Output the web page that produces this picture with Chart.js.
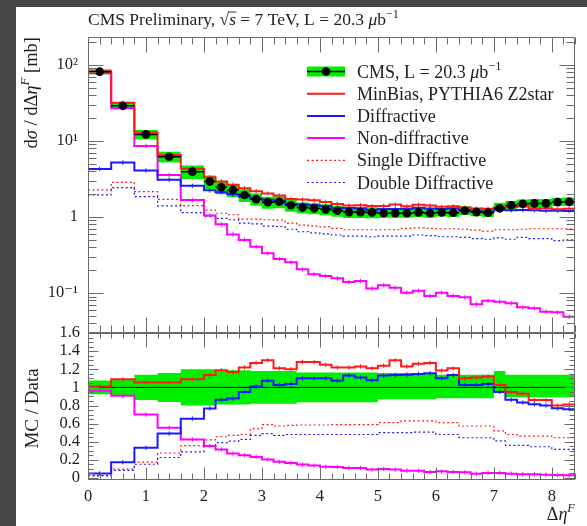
<!DOCTYPE html>
<html>
<head>
<meta charset="utf-8">
<script src="https://cdn.jsdelivr.net/npm/chart.js@4.4.1/dist/chart.umd.min.js"></script>
<style>
  html, body { margin: 0; padding: 0; background: #464646; }
  #wrap { position: relative; width: 587px; height: 526px; overflow: hidden; background: #464646; }
  #paper { position: absolute; left: 16px; top: 7px; right: 0; bottom: 0; background: #ffffff; }
  canvas { position: absolute; left: 0; top: 0; }
</style>
</head>
<body>
<div id="wrap">
  <div id="paper"></div>
  <canvas id="spectrum" width="587" height="526"></canvas>
  <canvas id="ratio" width="587" height="526"></canvas>
</div>
<script>
// ---- Binning in forward rapidity gap size ΔηF ----
const binEdges = [0, 0.4, 0.8, 1.2, 1.6, 2.0, 2.2, 2.4, 2.6, 2.8, 3.0, 3.2, 3.4, 3.6, 3.8,
  4.0, 4.2, 4.4, 4.6, 4.8, 5.0, 5.2, 5.4, 5.6, 5.8, 6.0, 6.2, 6.4, 6.6, 6.8, 7.0,
  7.2, 7.4, 7.6, 7.8, 8.0, 8.2, 8.4];

// ---- Measured cross section dσ/dΔηF [mb] and relative systematic band ----
const cmsData = [81.6, 29.1, 12.2, 6.2, 3.95, 2.92, 2.46, 2.27, 1.95, 1.72, 1.56, 1.59, 1.43,
  1.33, 1.30, 1.26, 1.21, 1.16, 1.16, 1.15, 1.12, 1.12, 1.12, 1.15, 1.12, 1.15, 1.14, 1.21,
  1.16, 1.14, 1.30, 1.42, 1.49, 1.51, 1.51, 1.57, 1.58];
const cmsErrUp = [0.075, 0.085, 0.14, 0.16, 0.20, 0.20, 0.19, 0.19, 0.19, 0.18, 0.18, 0.18, 0.18,
  0.165, 0.165, 0.165, 0.165, 0.165, 0.165, 0.165, 0.16, 0.16, 0.16, 0.16, 0.16, 0.14, 0.14,
  0.14, 0.14, 0.14, 0.18, 0.14, 0.14, 0.14, 0.14, 0.14, 0.14];
const cmsErrDown = [0.075, 0.085, 0.14, 0.16, 0.20, 0.20, 0.19, 0.19, 0.19, 0.18, 0.18, 0.18, 0.18,
  0.165, 0.165, 0.165, 0.165, 0.165, 0.165, 0.165, 0.13, 0.13, 0.13, 0.13, 0.13, 0.12, 0.12,
  0.12, 0.12, 0.12, 0.06, 0.11, 0.11, 0.11, 0.11, 0.11, 0.11];

// ---- PYTHIA6 Z2* predictions [mb] ----
const minBias = [82.4, 31.7, 12.9, 6.54, 4.31, 3.32, 2.93, 2.66, 2.38, 2.18, 2.03, 1.92, 1.72,
  1.70, 1.66, 1.58, 1.48, 1.42, 1.43, 1.39, 1.39, 1.46, 1.38, 1.45, 1.42, 1.36, 1.38, 1.33,
  1.29, 1.28, 1.33, 1.35, 1.39, 1.30, 1.30, 1.26, 1.28];
const diffractive = [4.28, 5.2, 4.1, 3.1, 2.58, 2.24, 2.12, 1.99, 1.85, 1.74, 1.68, 1.63, 1.48,
  1.46, 1.43, 1.39, 1.30, 1.31, 1.29, 1.24, 1.27, 1.27, 1.28, 1.32, 1.29, 1.27, 1.30, 1.24,
  1.19, 1.18, 1.24, 1.23, 1.24, 1.23, 1.21, 1.21, 1.20];
const nonDiffractive = [78, 27, 8.6, 3.57, 1.67, 1.05, 0.80, 0.59, 0.50, 0.407, 0.333, 0.280,
  0.253, 0.205, 0.176, 0.167, 0.156, 0.140, 0.144, 0.115, 0.127, 0.117, 0.101, 0.107, 0.0913,
  0.101, 0.0913, 0.0878, 0.071, 0.0792, 0.0768, 0.0732, 0.0648, 0.0629, 0.0568, 0.0557, 0.0488];
const singleDiffractive = [2.27, 2.86, 2.15, 1.71, 1.41, 1.23, 1.12, 1.07, 0.94, 0.94, 0.92, 0.91,
  0.83, 0.78, 0.76, 0.74, 0.71, 0.68, 0.68, 0.68, 0.68, 0.68, 0.71, 0.72, 0.71, 0.70, 0.70,
  0.69, 0.67, 0.65, 0.68, 0.68, 0.69, 0.70, 0.70, 0.70, 0.70];
const doubleDiffractive = [1.95, 2.43, 1.85, 1.40, 1.14, 1.02, 0.96, 0.92, 0.83, 0.81, 0.76, 0.75,
  0.69, 0.64, 0.62, 0.60, 0.58, 0.56, 0.56, 0.55, 0.56, 0.56, 0.56, 0.58, 0.57, 0.55, 0.55,
  0.54, 0.52, 0.51, 0.53, 0.51, 0.54, 0.52, 0.52, 0.49, 0.50];

// ---- MC / Data ratios ----
const ratioMinBias = [1.01, 1.09, 1.055, 1.055, 1.09, 1.137, 1.19, 1.17, 1.22, 1.27, 1.30, 1.21,
  1.20, 1.28, 1.28, 1.25, 1.22, 1.22, 1.23, 1.21, 1.24, 1.30, 1.23, 1.26, 1.27, 1.185, 1.21,
  1.10, 1.11, 1.12, 1.026, 0.95, 0.93, 0.86, 0.86, 0.80, 0.81];
const ratioDiffractive = [0.05, 0.174, 0.333, 0.49, 0.655, 0.767, 0.863, 0.878, 0.95, 1.01, 1.074,
  1.026, 1.037, 1.10, 1.10, 1.10, 1.074, 1.13, 1.11, 1.08, 1.13, 1.137, 1.14, 1.148, 1.156,
  1.10, 1.137, 1.026, 1.026, 1.037, 0.95, 0.863, 0.833, 0.815, 0.80, 0.77, 0.76];
const ratioNonDiffractive = [0.963, 0.907, 0.70, 0.555, 0.426, 0.352, 0.315, 0.27, 0.252, 0.233,
  0.204, 0.178, 0.165, 0.148, 0.137, 0.124, 0.122, 0.111, 0.111, 0.093, 0.10, 0.093, 0.081,
  0.081, 0.067, 0.074, 0.067, 0.063, 0.048, 0.056, 0.056, 0.048, 0.041, 0.041, 0.037, 0.033, 0.03];
const ratioSingleDiffractive = [0.028, 0.098, 0.176, 0.276, 0.357, 0.42, 0.455, 0.47, 0.48, 0.544,
  0.59, 0.574, 0.58, 0.585, 0.585, 0.585, 0.59, 0.59, 0.59, 0.59, 0.61, 0.61, 0.63, 0.63, 0.63,
  0.61, 0.61, 0.574, 0.574, 0.574, 0.52, 0.48, 0.463, 0.463, 0.463, 0.444, 0.444];
const ratioDoubleDiffractive = [0.024, 0.084, 0.152, 0.226, 0.289, 0.35, 0.39, 0.406, 0.426, 0.47,
  0.49, 0.47, 0.48, 0.48, 0.48, 0.48, 0.48, 0.48, 0.48, 0.48, 0.50, 0.50, 0.50, 0.507, 0.507,
  0.48, 0.48, 0.444, 0.444, 0.444, 0.41, 0.36, 0.36, 0.345, 0.345, 0.315, 0.315];

// ---- Axis tick labels ----
const xTickValues = [0, 1, 2, 3, 4, 5, 6, 7, 8];
const logTickValues = [0.1, 1, 10, 100];
const logTickLabels = ['10\u207B\u00B9', '1', '10\u00B9', '10\u00B2'];
const ratioTickValues = [0, 0.2, 0.4, 0.6, 0.8, 1, 1.2, 1.4, 1.6];
const ratioTickLabels = ['0', '0.2', '0.4', '0.6', '0.8', '1', '1.2', '1.4', '1.6'];

// ---- Styling ----
const SERIF = '"Liberation Serif", "DejaVu Serif", serif';
const GREEN = '#00ee00';
const RED = '#ff1a1a';
const BLUE = '#1a1aff';
const MAGENTA = '#ff00ff';
const FRAME = '#6a6a6a';
const TEXT = '#1e1e1e';

// histogram as step line: one point per lower bin edge + closing point at the last edge
function stepPoints(vals) {
  const pts = vals.map((v, i) => ({ x: binEdges[i], y: v }));
  pts.push({ x: binEdges[vals.length], y: vals[vals.length - 1] });
  return pts;
}
// horizontal bin-width bars, separated by gaps
function binBars(vals) {
  const pts = [];
  vals.forEach((v, i) => {
    pts.push({ x: binEdges[i], y: v }, { x: binEdges[i + 1], y: v }, { x: binEdges[i + 1], y: null });
  });
  return pts;
}
function binCentres(vals) {
  return vals.map((v, i) => ({ x: (binEdges[i] + binEdges[i + 1]) / 2, y: v }));
}
function histo(label, vals, color, width, dash, order) {
  return {
    label, data: stepPoints(vals), stepped: true, borderColor: color, borderWidth: width,
    borderDash: dash || [], pointRadius: 0, fill: false, order
  };
}
// small vertical MC error ticks at the bin centres
function errTicks(vals, color, order) {
  return {
    type: 'scatter', data: binCentres(vals), showLine: false, pointStyle: 'line', rotation: 90,
    pointRadius: 2.2, pointBorderWidth: 1, pointBorderColor: color, order
  };
}
function band(vals, order, fillTarget) {
  return {
    data: stepPoints(vals), stepped: true, borderColor: 'rgba(0,0,0,0)', borderWidth: 1,
    pointRadius: 0, backgroundColor: GREEN, fill: fillTarget, order
  };
}

const bandUpper = cmsData.map((v, i) => v * (1 + cmsErrUp[i]));
const bandLower = cmsData.map((v, i) => v * (1 - cmsErrDown[i]));
const ratioBandUpper = cmsErrUp.map(e => 1 + e);
const ratioBandLower = cmsErrDown.map(e => 1 - e);
const unity = cmsData.map(() => 1);

// ---- text helpers: runs of [text, style] with italic / superscript / overline ----
function runFont(st, size) {
  const it = st.includes('i');
  const sup = st.includes('sup');
  return { font: (it ? 'italic ' : '') + (sup ? size * 0.7 : size) + 'px ' + SERIF, sup };
}
function runsWidth(ctx, runs, size) {
  let w = 0;
  for (const [t, st] of runs) { ctx.font = runFont(st, size).font; w += ctx.measureText(t).width; }
  return w;
}
function drawRuns(ctx, runs, x, y, size) {
  let cx = x;
  ctx.textBaseline = 'alphabetic';
  ctx.textAlign = 'left';
  for (const [t, st] of runs) {
    const f = runFont(st, size);
    ctx.font = f.font;
    const w = ctx.measureText(t).width;
    ctx.fillText(t, cx, f.sup ? y - size * 0.42 : y);
    if (st.includes('over')) {
      ctx.save();
      ctx.lineWidth = 0.9;
      ctx.strokeStyle = ctx.fillStyle;
      ctx.beginPath();
      ctx.moveTo(cx - 1, y - size * 0.74);
      ctx.lineTo(cx + w + 0.5, y - size * 0.74);
      ctx.stroke();
      ctx.restore();
    }
    cx += w;
  }
  return cx - x;
}

// ---- frame with inward ROOT-style tick marks, positioned through the chart scales ----
function drawFrame(chart, spec) {
  const { ctx, chartArea: a, scales } = chart;
  const xs = scales.x, ys = scales.y;
  ctx.save();
  ctx.strokeStyle = FRAME;
  ctx.lineWidth = 1;
  ctx.beginPath();
  const L = Math.round(a.left) + 0.5, R = Math.round(a.right) - 0.5;
  const T = Math.round(a.top) + 0.5, B = Math.round(a.bottom) - 0.5;
  ctx.rect(L, T, R - L, B - T);
  // x ticks every 0.2, majors at integers
  for (let k = 0; k <= 42; k++) {
    const v = k * 0.2;
    const px = Math.round(xs.getPixelForValue(v)) + 0.5;
    const major = k % 5 === 0;
    const lt = major ? spec.xTopMajor : spec.xTopMinor;
    const lb = major ? spec.xBotMajor : spec.xBotMinor;
    ctx.moveTo(px, T); ctx.lineTo(px, T + lt);
    ctx.moveTo(px, B); ctx.lineTo(px, B - lb);
  }
  // y ticks
  const yTicks = [];
  if (spec.log) {
    for (let d = -3; d <= 3; d++) {
      for (let m = 1; m <= 9; m++) {
        const v = m * Math.pow(10, d);
        if (v >= ys.min && v <= ys.max) yTicks.push([v, m === 1]);
      }
    }
  } else {
    for (let k = 0; k <= 32; k++) yTicks.push([k * 0.05, k % 4 === 0]);
  }
  for (const [v, major] of yTicks) {
    const py = Math.round(ys.getPixelForValue(v)) + 0.5;
    const len = major ? spec.yMajor : spec.yMinor;
    ctx.moveTo(L, py); ctx.lineTo(L + len, py);
    ctx.moveTo(R, py); ctx.lineTo(R - len, py);
  }
  ctx.stroke();
  ctx.restore();
}

const tickFont = { family: SERIF, size: 16.5 };

// ---- upper panel: differential cross section ----
const spectrumDecor = {
  id: 'spectrumDecor',
  afterDatasetsDraw(chart) {
    const ctx = chart.ctx;
    drawFrame(chart, { log: true, xTopMajor: 15, xTopMinor: 7, xBotMajor: 15, xBotMinor: 7, yMajor: 15, yMinor: 8 });

    ctx.save();
    ctx.fillStyle = TEXT;
    // header
    drawRuns(ctx, [['CMS Preliminary, ', ''], ['\u221A', ''], ['s', 'i over'],
      [' = 7 TeV, L = 20.3 ', ''], ['\u03BC', 'i'], ['b', ''], ['\u22121', 'sup']], 88, 25, 17.5);

    // y-axis title, rotated, aligned to the top of the frame
    const yRuns = [['d', ''], ['\u03C3', 'i'], [' / d\u0394', ''], ['\u03B7', 'i'], ['F', 'isup'], [' [mb]', '']];
    ctx.save();
    ctx.translate(37, chart.chartArea.top);
    ctx.rotate(-Math.PI / 2);
    const w = runsWidth(ctx, yRuns, 18.5);
    drawRuns(ctx, yRuns, -w, 0, 18.5);
    ctx.restore();

    // legend
    const items = [
      { text: [['CMS, L = 20.3 ', ''], ['\u03BC', 'i'], ['b', ''], ['\u22121', 'sup']], kind: 'data' },
      { text: [['MinBias, PYTHIA6 Z2star', '']], color: RED, dash: [] },
      { text: [['Diffractive', '']], color: BLUE, dash: [] },
      { text: [['Non-diffractive', '']], color: MAGENTA, dash: [] },
      { text: [['Single Diffractive', '']], color: RED, dash: [2, 2.5], thin: true },
      { text: [['Double Diffractive', '']], color: BLUE, dash: [2, 2.5], thin: true }
    ];
    const x0 = 307, x1 = 345, tx = 357;
    items.forEach((it, i) => {
      const y = 71.5 + i * 22.2;
      if (it.kind === 'data') {
        ctx.fillStyle = GREEN;
        ctx.fillRect(x0, y - 5, x1 - x0, 10);
        ctx.strokeStyle = '#000'; ctx.lineWidth = 1.5;
        ctx.beginPath(); ctx.moveTo(x0, y); ctx.lineTo(x1, y); ctx.stroke();
        ctx.fillStyle = '#000';
        ctx.beginPath(); ctx.arc((x0 + x1) / 2, y, 4.3, 0, Math.PI * 2); ctx.fill();
      } else {
        ctx.strokeStyle = it.color; ctx.lineWidth = it.thin ? 1.2 : 2;
        ctx.setLineDash(it.dash);
        ctx.beginPath(); ctx.moveTo(x0, y); ctx.lineTo(x1, y); ctx.stroke();
        ctx.setLineDash([]);
      }
      ctx.fillStyle = TEXT;
      drawRuns(ctx, it.text, tx, y + 6, 18);
    });
    ctx.restore();
  }
};

new Chart(document.getElementById('spectrum'), {
  type: 'line',
  data: {
    datasets: [
      band(bandUpper, 30, false),
      band(bandLower, 29, '-1'),
      histo('Single Diffractive', singleDiffractive, RED, 1.2, [2, 2.5], 9),
      histo('Double Diffractive', doubleDiffractive, BLUE, 1.2, [2, 2.5], 8),
      histo('Non-diffractive', nonDiffractive, MAGENTA, 2, null, 7),
      errTicks(nonDiffractive, MAGENTA, 7),
      histo('Diffractive', diffractive, BLUE, 2, null, 6),
      errTicks(diffractive, BLUE, 6),
      histo('MinBias, PYTHIA6 Z2star', minBias, RED, 2, null, 5),
      errTicks(minBias, RED, 5),
      { data: binBars(cmsData), borderColor: '#000', borderWidth: 1.5, pointRadius: 0, spanGaps: false, fill: false, order: 2 },
      { type: 'scatter', label: 'CMS', data: binCentres(cmsData), pointRadius: 4.3, pointBackgroundColor: '#000', pointBorderWidth: 0, showLine: false, order: 1 }
    ]
  },
  options: {
    responsive: false, animation: false, events: [],
    layout: { padding: { left: 0, top: 37, right: 12, bottom: 193 } },
    plugins: { legend: { display: false }, tooltip: { enabled: false } },
    scales: {
      x: { type: 'linear', min: 0, max: 8.4, display: false },
      y: {
        type: 'logarithmic', min: 0.0298, max: 233,
        afterFit(s) { s.width = 88; },
        afterBuildTicks(s) { s.ticks = logTickValues.map(v => ({ value: v })); },
        grid: { display: false, drawTicks: false }, border: { display: false },
        ticks: {
          padding: 10, font: tickFont, color: TEXT, autoSkip: false,
          callback(v) { const i = logTickValues.indexOf(v); return i < 0 ? '' : logTickLabels[i]; }
        }
      }
    }
  },
  plugins: [spectrumDecor]
});

// ---- lower panel: MC / Data ----
const ratioDecor = {
  id: 'ratioDecor',
  afterDatasetsDraw(chart) {
    const ctx = chart.ctx;
    drawFrame(chart, { log: false, xTopMajor: 14, xTopMinor: 5, xBotMajor: 12, xBotMinor: 6, yMajor: 10, yMinor: 5 });
    ctx.save();
    ctx.fillStyle = TEXT;
    // y-axis title
    const yRuns = [['MC / Data', '']];
    ctx.save();
    ctx.translate(38, (chart.chartArea.top + chart.chartArea.bottom) / 2 + 2);
    ctx.rotate(-Math.PI / 2);
    const w = runsWidth(ctx, yRuns, 19);
    drawRuns(ctx, yRuns, -w / 2, 0, 19);
    ctx.restore();
    // x-axis title, right aligned with the frame
    const xRuns = [['\u0394', ''], ['\u03B7', 'i'], ['F', 'isup']];
    const xw = runsWidth(ctx, xRuns, 18);
    drawRuns(ctx, xRuns, chart.chartArea.right - xw, 520, 18);
    ctx.restore();
  }
};

new Chart(document.getElementById('ratio'), {
  type: 'line',
  data: {
    datasets: [
      band(ratioBandUpper, 30, false),
      band(ratioBandLower, 29, '-1'),
      { data: stepPoints(unity), borderColor: '#000', borderWidth: 1, pointRadius: 0, fill: false, order: 20 },
      histo('Single Diffractive', ratioSingleDiffractive, RED, 1.2, [2, 2.5], 9),
      histo('Double Diffractive', ratioDoubleDiffractive, BLUE, 1.2, [2, 2.5], 8),
      histo('Non-diffractive', ratioNonDiffractive, MAGENTA, 2, null, 7),
      errTicks(ratioNonDiffractive, MAGENTA, 7),
      histo('Diffractive', ratioDiffractive, BLUE, 2, null, 6),
      errTicks(ratioDiffractive, BLUE, 6),
      histo('MinBias, PYTHIA6 Z2star', ratioMinBias, RED, 2, null, 5),
      errTicks(ratioMinBias, RED, 5)
    ]
  },
  options: {
    responsive: false, animation: false, events: [],
    layout: { padding: { left: 0, top: 333, right: 12, bottom: 0 } },
    plugins: { legend: { display: false }, tooltip: { enabled: false } },
    scales: {
      x: {
        type: 'linear', min: 0, max: 8.4,
        afterFit(s) { s.height = 46; },
        afterBuildTicks(s) { s.ticks = xTickValues.map(v => ({ value: v })); },
        grid: { display: false, drawTicks: false }, border: { display: false },
        ticks: { padding: 7, font: tickFont, color: TEXT, autoSkip: false, maxRotation: 0, callback: v => String(v) }
      },
      y: {
        type: 'linear', min: -0.022, max: 1.6,
        afterFit(s) { s.width = 88; },
        afterBuildTicks(s) { s.ticks = ratioTickValues.map(v => ({ value: v })); },
        grid: { display: false, drawTicks: false }, border: { display: false },
        ticks: {
          padding: 8, font: tickFont, color: TEXT, autoSkip: false,
          callback(v) { const i = ratioTickValues.indexOf(v); return i < 0 ? '' : ratioTickLabels[i]; }
        }
      }
    }
  },
  plugins: [ratioDecor]
});
</script>
</body>
</html>
